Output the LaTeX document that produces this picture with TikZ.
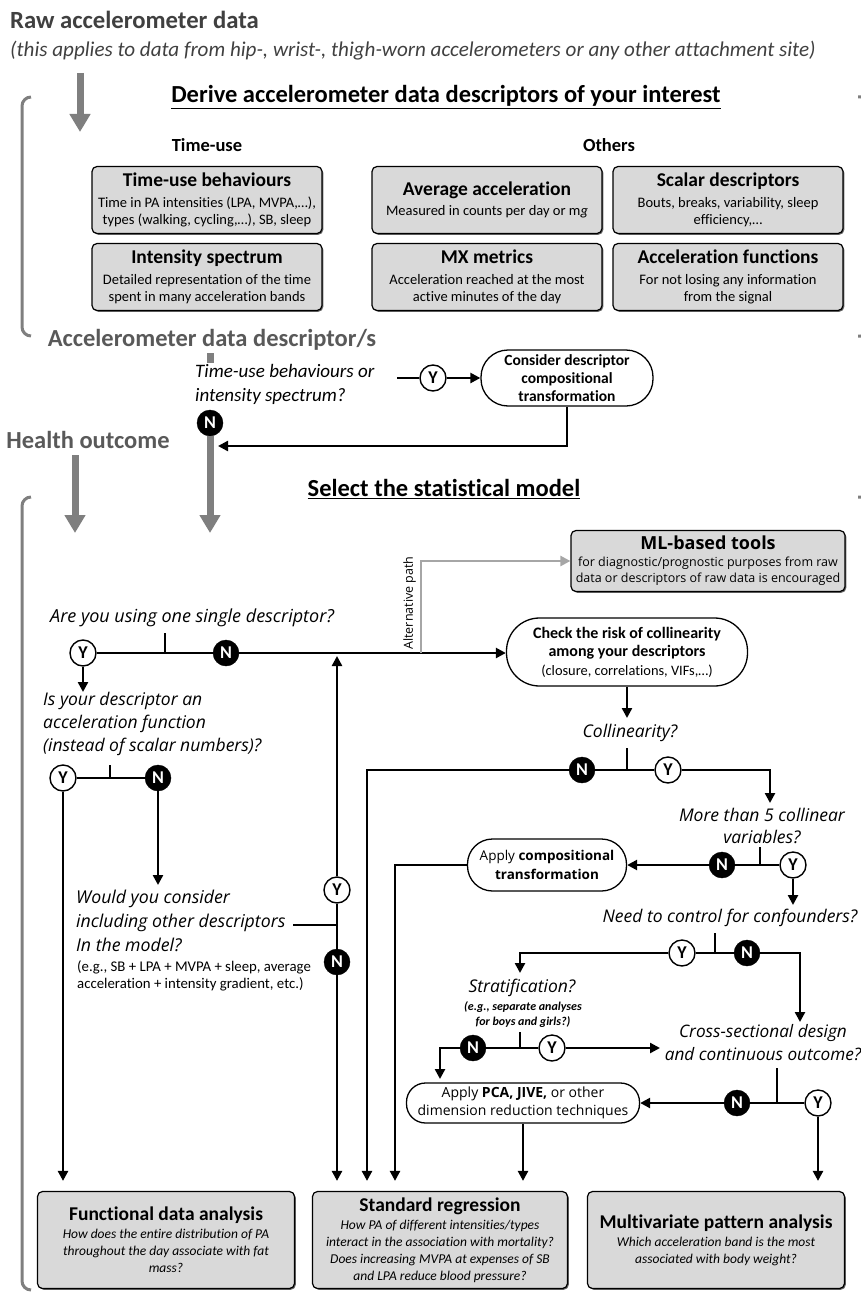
\documentclass[tikz,border=0pt]{standalone}
\usepackage{fontspec}
\setmainfont{Carlito}[Ligatures=NoCommon]
\newfontfamily\osf{Open Sans}
\usetikzlibrary{arrows.meta,shadows}
\definecolor{boxgray}{HTML}{D9D9D9}
\definecolor{midgray}{HTML}{7F7F7F}
\definecolor{txtgray}{HTML}{404040}
\definecolor{hgray}{HTML}{595959}
\definecolor{altgray}{HTML}{A6A6A6}
\newcommand{\fsz}[2]{\fontsize{#1}{#2}\selectfont}
\begin{document}
\begin{tikzpicture}[x=1pt,y=-1pt,
  conn/.style={line width=2.4pt,black},
  arr/.style={conn,-{Triangle[length=10pt,width=10pt]}},
  garr/.style={line width=7pt,midgray,-{Triangle[length=18pt,width=20pt]}},
  gline/.style={line width=7pt,midgray},
  brk/.style={line width=3pt,midgray,rounded corners=9pt},
  gbox/.style={draw,fill=boxgray,line width=1.2pt,rounded corners=5pt,align=center,inner sep=2pt,
    general shadow={fill=black!60,shadow xshift=1.3pt,shadow yshift=-1.3pt}},
  term/.style={draw,fill=white,line width=1.3pt,align=center,inner sep=2pt},
  yc/.style={circle,draw,fill=white,line width=1.4pt,minimum size=26pt,inner sep=0pt,font=\bfseries\fsz{18}{18}},
  nc/.style={circle,draw=black,fill=black,text=white,minimum size=26pt,inner sep=0pt,font=\bfseries\fsz{18}{18}},
  qs/.style={font=\osf\itshape\fsz{17.5}{23},align=left,inner sep=0pt},
  qc/.style={font=\osf\itshape\fsz{17.5}{22},align=center,inner sep=0pt},
  lbl/.style={inner sep=0pt},
]
\useasboundingbox (0,0) rectangle (861,1295);

% ---------- top ----------
\node[lbl,anchor=base west,font=\bfseries\fsz{24.7}{24.7},text=txtgray] (raw) at (10,29) {Raw accelerometer data};
\node[lbl,anchor=base west,font=\itshape\fsz{21.1}{21.1},text=txtgray] (site) at (10,57) {(this applies to data from hip-, wrist-, thigh-worn accelerometers or any other attachment site)};
\coordinate (g1a) at (80,73);
\coordinate (g1b) at (80,132);
\draw[garr] (g1a) -- (g1b);
\draw[brk] (31,97) -- (22,97) -- (22,336) -- (31,336);
\draw[brk] (858,97) -- (870,97) -- (870,336) -- (858,336);
\node[lbl,font=\bfseries\fsz{24.5}{24.5}] (derive) at (446,97) {\underline{Derive accelerometer data descriptors of your interest}};
\node[lbl,font=\bfseries\fsz{18.5}{18.5}] (tuh) at (207,145) {Time-use};
\node[lbl,font=\bfseries\fsz{18.5}{18.5}] (oth) at (609,145) {Others};

\node[gbox,minimum width=230pt,minimum height=67pt,font=\fsz{14.5}{17.5}] (tub) at (207,200) {\textbf{\fsz{19.5}{19.5}Time-use behaviours}\\[3pt]Time in PA intensities (LPA, MVPA,…),\\types (walking, cycling,…), SB, sleep};
\node[gbox,minimum width=230pt,minimum height=67pt,font=\fsz{14.5}{17.5}] (avg) at (487,200) {\textbf{\fsz{19.5}{19.5}Average acceleration}\\[3pt]Measured in counts per day or m\textit{g}};
\node[gbox,minimum width=230pt,minimum height=67pt,font=\fsz{14.5}{17.5}] (sca) at (728,200) {\textbf{\fsz{19.5}{19.5}Scalar descriptors}\\[3pt]Bouts, breaks, variability, sleep\\efficiency,…};
\node[gbox,minimum width=230pt,minimum height=67pt,font=\fsz{14.5}{17.5}] (ins) at (207,277) {\textbf{\fsz{19.5}{19.5}Intensity spectrum}\\[3pt]Detailed representation of the time\\spent in many acceleration bands};
\node[gbox,minimum width=230pt,minimum height=67pt,font=\fsz{14.5}{17.5}] (mx) at (487,277) {\textbf{\fsz{19.5}{19.5}MX metrics}\\[3pt]Acceleration reached at the most\\active minutes of the day};
\node[gbox,minimum width=230pt,minimum height=67pt,font=\fsz{14.5}{17.5}] (acf) at (728,277) {\textbf{\fsz{19.5}{19.5}Acceleration functions}\\[3pt]For not losing any information\\from the signal};

% ---------- descriptor question ----------
\node[lbl,font=\bfseries\fsz{24.5}{24.5},text=hgray] (ads) at (212,340) {Accelerometer data descriptor/s};
\coordinate (g2a) at (210,353);
\coordinate (g2b) at (210,363);
\draw[gline] (g2a) -- (g2b);
\node[lbl,anchor=west,align=left,font=\itshape\fsz{19}{24}] (q0) at (195,384) {Time-use behaviours or\\intensity spectrum?};
\node[yc] (y0) at (433,378) {Y};
\coordinate (q0e) at (397,378);
\node[term,rounded corners=27pt,minimum width=172pt,minimum height=56pt,font=\bfseries\fsz{15.5}{18}] (cdt) at (567,378) {Consider descriptor\\compositional\\transformation};
\draw[conn] (q0e) -- (y0);
\draw[arr] (y0) -- (cdt);
\node[nc] (n0) at (210,423) {N};
\coordinate (ret) at (218,446);
\draw[arr] (cdt.south) |- (ret);
\node[lbl,font=\bfseries\fsz{24.5}{24.5},text=hgray] (ho) at (88,440) {Health outcome};
\coordinate (g3a) at (75,455);
\coordinate (g3b) at (75,533);
\draw[garr] (g3a) -- (g3b);
\coordinate (g4b) at (210,533);
\draw[garr] (n0) -- (g4b);
\node[lbl,font=\bfseries\fsz{24.5}{24.5}] (sel) at (444,489) {\underline{Select the statistical model}};
\draw[brk] (31,497) -- (22,497) -- (22,1290) -- (31,1290);
\draw[brk] (858,497) -- (870,497) -- (870,1290);

% ---------- bottom boxes ----------
\node[gbox,minimum width=257pt,minimum height=97pt,font=\itshape\fsz{13.5}{17}] (fda) at (166,1240) {\textbf{\upshape\fsz{19.5}{19.5}Functional data analysis}\\[1pt]How does the entire distribution of PA\\throughout the day associate with fat\\mass?};
\node[gbox,minimum width=255pt,minimum height=97pt,font=\itshape\fsz{13.5}{17}] (sr) at (440,1240) {\textbf{\upshape\fsz{19.5}{19.5}Standard regression}\\[1pt]How PA of different intensities/types\\interact in the association with mortality?\\Does increasing MVPA at expenses of SB\\and LPA reduce blood pressure?};
\node[gbox,minimum width=257pt,minimum height=97pt,font=\itshape\fsz{13.5}{17}] (mpa) at (716,1240) {\textbf{\upshape\fsz{19.5}{19.5}Multivariate pattern analysis}\\[1pt]Which acceleration band is the most\\associated with body weight?};

% ---------- single descriptor ----------
\node[gbox,minimum width=274pt,minimum height=61pt,font=\osf\fsz{12.5}{16.5}] (ml) at (708,561) {\textbf{\fsz{18}{18}ML-based tools}\\for diagnostic/prognostic purposes from raw\\data or descriptors of raw data is encouraged};
\node[qs,anchor=base west,font=\osf\itshape\fsz{18}{23}] (q1) at (50,622) {Are you using one single descriptor?};
\node[yc] (y1) at (83,653) {Y};
\node[nc] (n1) at (226,653) {N};
\node[term,rounded corners=33pt,minimum width=241pt,minimum height=68pt,font=\fsz{14.4}{18.5}] (chk) at (627,652) {\textbf{\fsz{16}{18.5}Check the risk of collinearity}\\\textbf{\fsz{16}{18.5}among your descriptors}\\(closure, correlations, VIFs,…)};
\coordinate (t1) at (165,633);
\draw[conn] (y1) -- (n1);
\draw[conn] (t1) -- (t1 |- y1);
\draw[arr] (n1) -- (n1 -| chk.west);
\coordinate (ap) at (421,653);
\draw[line width=2.4pt,altgray,-{Triangle[length=10pt,width=10pt]}] (ap) |- (ml.west);
\node[lbl,rotate=90,anchor=south,font=\osf\fsz{12.5}{12.5}] (apl) at (416,603) {Alternative path};

\coordinate (y1d) at (83,692);
\draw[arr] (y1) -- (y1d);
\node[qs,anchor=north west] (q2) at (43,692) {Is your descriptor an\\acceleration function\\(instead of scalar numbers)?};
\node[yc] (y2) at (63,778) {Y};
\node[nc] (n2) at (158,778) {N};
\coordinate (t2) at (110,765);
\draw[conn] (y2) -- (n2);
\draw[conn] (t2) -- (t2 |- y2);
\draw[arr,shorten >=10pt] (y2) -- (y2 |- fda.north);
\coordinate (n2d) at (158,885);
\draw[arr] (n2) -- (n2d);
\node[qs,anchor=north west,font=\osf\itshape\fsz{17.7}{24}] (q3) at (76,890) {Would you consider\\including other descriptors\\In the model?};
\node[lbl,anchor=north west,align=left,font=\fsz{14.8}{17}] (q3e) at (77,960) {(e.g., SB + LPA + MVPA + sleep, average\\acceleration + intensity gradient, etc.)};
\node[yc] (y3) at (337,890) {Y};
\node[nc] (n3) at (337,962) {N};
\coordinate (q3r) at (293,925);
\draw[conn] (q3r) -- (q3r -| y3);
\draw[conn] (y3) -- (n3);
\coordinate (y3u) at (337,656);
\draw[arr] (y3) -- (y3u);
\draw[arr,shorten >=10pt] (n3) -- (n3 |- sr.north);

% ---------- collinearity ----------
\coordinate (chkd) at (627,718);
\draw[arr] (chk) -- (chkd);
\node[qc] (q4) at (630,733) {Collinearity?};
\coordinate (t4) at (627,748);
\node[nc] (n4) at (582,770) {N};
\node[yc] (y4) at (668,770) {Y};
\coordinate (c4l) at (367,770);
\coordinate (c4d) at (770,803);
\draw[conn] (n4) -- (y4);
\draw[conn] (t4) -- (t4 |- n4);
\draw[arr] (y4) -| (c4d);
\draw[arr,shorten >=10pt] (n4) -- (c4l) -- (c4l |- sr.north);

\node[qc] (q5) at (762,826) {More than 5 collinear\\variables?};
\coordinate (t5) at (760,847);
\node[nc] (n5) at (722,865) {N};
\node[yc] (y5) at (793,865) {Y};
\draw[conn] (n5) -- (y5);
\draw[conn] (t5) -- (t5 |- n5);
\node[term,rounded corners=25pt,minimum width=159pt,minimum height=52pt,font=\osf\fsz{13.5}{19}] (act) at (547,865) {Apply \textbf{compositional}\\\textbf{transformation}};
\draw[arr] (n5) -- (act);
\coordinate (a5) at (395,865);
\draw[arr,shorten >=10pt] (act) -- (a5) -- (a5 |- sr.north);
\coordinate (y5d) at (793,905);
\draw[arr] (y5) -- (y5d);

\node[qc] (q6) at (730,918) {Need to control for confounders?};
\coordinate (t6) at (715,933);
\node[yc] (y6) at (682,953) {Y};
\node[nc] (n6) at (747,953) {N};
\draw[conn] (y6) -- (n6);
\draw[conn] (t6) -- (t6 |- y6);
\coordinate (y6d) at (520,973);
\draw[arr] (y6) -| (y6d);
\coordinate (n6d) at (800,1022);
\draw[arr] (n6) -| (n6d);

\node[qc] (q7) at (522,988) {Stratification?};
\node[lbl,align=center,font=\bfseries\itshape\fsz{12}{15}] (q7e) at (523,1015) {(e.g., separate analyses\\for boys and girls?)};
\coordinate (t7) at (520,1032);
\node[nc] (n7) at (473,1048) {N};
\node[yc] (y7) at (552,1048) {Y};
\draw[conn] (n7) -- (y7);
\draw[conn] (t7) -- (t7 |- n7);
\coordinate (y7r) at (660,1048);
\draw[arr] (y7) -- (y7r);
\coordinate (n7d) at (440,1079);
\draw[arr] (n7) -| (n7d);

\node[qc,font=\osf\itshape\fsz{17.2}{23}] (q8) at (763,1043) {Cross-sectional design\\and continuous outcome?};
\coordinate (t8) at (777,1068);
\node[nc] (n8) at (737,1103) {N};
\node[yc] (y8) at (818,1103) {Y};
\draw[conn] (n8) -- (y8);
\draw[conn] (t8) -- (t8 |- n8);
\node[term,rounded corners=19pt,minimum width=233pt,minimum height=40pt,font=\osf\fsz{14}{18}] (pca) at (523,1103) {Apply \textbf{PCA, JIVE,} or other\\dimension reduction techniques};
\draw[arr] (n8) -- (pca);
\draw[arr,shorten >=10pt] (pca) -- (pca |- sr.north);
\draw[arr,shorten >=10pt] (y8) -- (y8 |- mpa.north);
\end{tikzpicture}
\end{document}
